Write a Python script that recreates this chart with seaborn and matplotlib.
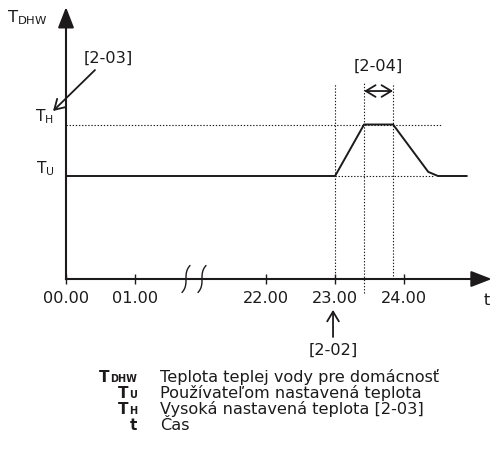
import numpy as np
import pandas as pd
import matplotlib
matplotlib.use("Agg")
import matplotlib.pyplot as plt
import seaborn as sns

# --- data -------------------------------------------------------------
# hot-water temperature profile over the day (hours, level in units of T_U)
time_h = [0.00, 23.00, 23.42, 23.84, 24.35, 24.49, 24.91]
level = [1.00, 1.00, 1.50, 1.50, 1.04, 1.00, 1.00]

tick_hours = [0.0, 1.0, 22.0, 23.0, 24.0]
tick_labels = ["00.00", "01.00", "22.00", "23.00", "24.00"]

level_names = [r"$\mathrm{T}_{\mathrm{U}}$", r"$\mathrm{T}_{\mathrm{H}}$"]
level_values = [1.0, 1.5]

start_h = 23.00              # [2-02]
plateau_h = [23.42, 23.84]   # [2-04]

legend_main = ["T", "T", "T", "t"]
legend_sub = ["DHW", "U", "H", ""]
legend_texts = ["Teplota teplej vody pre domácnosť",
                "Používateľom nastavená teplota",
                "Vysoká nastavená teplota [2-03]",
                "Čas"]

# the night hours between 01.00 and 22.00 are cut out of the axis
CUT = 19.1


def pos(h):
    h = np.asarray(h, dtype=float)
    return np.where(h > 1.5, h - CUT, h)


# --- style ------------------------------------------------------------
sns.set_theme(style="white")
plt.rcParams["font.family"] = ["DejaVu Sans"]
plt.rcParams["mathtext.fontset"] = "dejavusans"
INK = "#1c1a1b"
FS = 11.6

fig = plt.figure(figsize=(4.93, 4.51), dpi=100)
ax = fig.add_axes([0, 0, 1, 1])
ax.set_xlim(-66 / 69, 427 / 69)
ax.set_ylim(-172 / 103, 279 / 103)
ax.set_facecolor("white")

df = pd.DataFrame({"x": pos(time_h), "y": level})
sns.lineplot(data=df, x="x", y="y", ax=ax, color=INK, lw=1.4,
             sort=False, estimator=None)
ax.set_xlabel("")
ax.set_ylabel("")

# axes drawn through the origin with arrow heads
x_end, y_end = 6.17, 2.64
for side in ["top", "right"]:
    ax.spines[side].set_visible(False)
for side in ["left", "bottom"]:
    ax.spines[side].set_position(("data", 0))
    ax.spines[side].set_color(INK)
    ax.spines[side].set_linewidth(1.5)
ax.spines["left"].set_bounds(0, y_end - 0.1)
ax.spines["bottom"].set_bounds(0, x_end - 0.15)
head = dict(arrowstyle="-|>,head_length=0.9,head_width=0.35", color=INK,
            lw=1.5, mutation_scale=14, shrinkA=0, shrinkB=0)
ax.annotate("", xy=(0, y_end), xytext=(0, y_end - 0.2), arrowprops=head,
            annotation_clip=False)
ax.annotate("", xy=(x_end, 0), xytext=(x_end - 0.3, 0), arrowprops=head,
            annotation_clip=False)

ax.set_xticks(pos(tick_hours))
ax.set_xticklabels(tick_labels)
ax.tick_params(axis="x", direction="inout", length=6.5, width=1.0,
               color=INK, labelcolor=INK, labelsize=FS, pad=5.5,
               bottom=True)
ax.set_yticks([])
ax.grid(False)

# level names beside the vertical axis
for name, v in zip(level_names, level_values):
    ax.text(-0.17, v + 0.03, name, ha="right", va="baseline",
            fontsize=11.2, color=INK)

# break marks on the time axis
t = np.linspace(-1, 1, 40)
for cx in [1.739, 1.971]:
    ax.plot(cx - 0.058 * t ** 3, -0.131 * t, color=INK, lw=1.0,
            clip_on=False)

# reference levels and markers
dot = dict(color=INK, lw=0.8, ls=(0, (1.2, 1.6)))
ax.plot([0, 5.435], [1.5, 1.5], **dot)
ax.plot([pos(start_h), 5.32], [1.0, 1.0], **dot)
ax.plot([pos(start_h)] * 2, [0, 1.903], **dot)
ax.plot([pos(plateau_h[0])] * 2, [-0.136, 1.903], **dot)
ax.plot([pos(plateau_h[1])] * 2, [0.03, 1.903], **dot)

thin = dict(arrowstyle="->,head_length=0.5,head_width=0.3", color=INK,
            lw=1.3, mutation_scale=14, shrinkA=0, shrinkB=0)
ax.annotate("", xy=(pos(plateau_h[0]), 1.825),
            xytext=(pos(plateau_h[1]), 1.825),
            arrowprops=dict(thin, arrowstyle="<->,head_length=0.5,head_width=0.3"))
ax.text(float(np.mean(pos(plateau_h))), 2.068, "[2-04]", ha="center",
        va="center", fontsize=FS, color=INK)

ax.annotate("", xy=(-0.188, 1.631), xytext=(0.42, 2.029), arrowprops=thin,
            annotation_clip=False)
ax.text(0.609, 2.146, "[2-03]", ha="center", va="center", fontsize=FS,
        color=INK)

ax.annotate("", xy=(pos(start_h) - 0.03, -0.30),
            xytext=(pos(start_h) - 0.03, -0.563), arrowprops=thin,
            annotation_clip=False)
ax.text(pos(start_h) - 0.03, -0.689, "[2-02]", ha="center", va="center",
        fontsize=FS, color=INK)

ax.text(6.10, -0.204, "t", ha="center", va="center", fontsize=FS, color=INK)
ax.text(-0.855, 2.495, r"$\mathrm{T}_{\mathrm{DHW}}$", ha="left",
        va="baseline", fontsize=11.8, color=INK)

# key: bold symbol with a small subscript sitting on the baseline
W, H = 493, 451
renderer = fig.canvas.get_renderer()
for i, (main, sub, txt) in enumerate(zip(legend_main, legend_sub, legend_texts)):
    yb = 1 - (382 + 16 * i) / H
    right = 137
    if sub:
        s = fig.text(right / W, yb, sub, ha="right", va="baseline",
                     fontsize=7, fontweight="bold", color=INK)
        right -= s.get_window_extent(renderer).width + 0.5
    fig.text(right / W, yb, main, ha="right", va="baseline", fontsize=11,
             fontweight="bold", color=INK)
    fig.text(160 / W, yb, txt, ha="left", va="baseline", fontsize=11.6,
             color=INK)

fig.savefig("out.png", dpi=100, facecolor="white")
